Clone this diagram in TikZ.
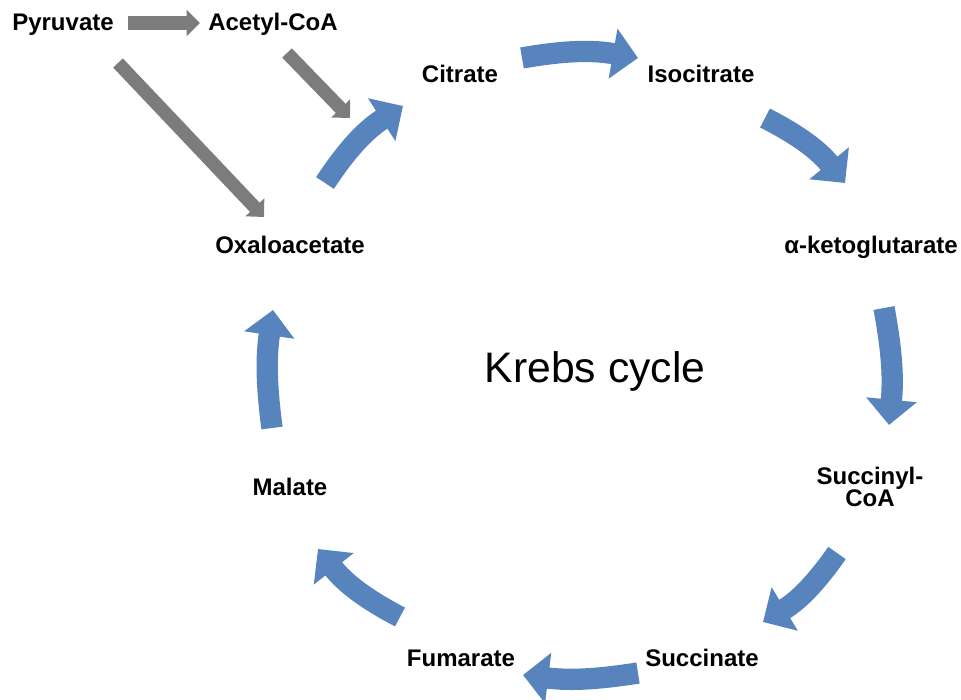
\documentclass[tikz,border=0pt]{standalone}
\usepackage{fontspec}
\setmainfont{Liberation Sans}
\usetikzlibrary{arrows.meta}

\definecolor{krebsBlue}{RGB}{88,132,190}
\definecolor{feedGrey}{RGB}{124,124,124}

\begin{document}
\begin{tikzpicture}[x=0.75pt, y=0.75pt,
        metabolite/.style={font=\fontsize{18}{16.5}\selectfont\bfseries, anchor=base, inner sep=0pt, align=center},
        cycleArrow/.style={draw=krebsBlue, line width=16pt, arrows={-{Triangle[width=37pt, length=19pt]}}, bend left=#1},
        cycleArrow/.default=12,
        feedArrow/.style={draw=feedGrey, line width=10pt, arrows={-{Triangle[width=19pt, length=10pt]}}}]
    \useasboundingbox (0,0) rectangle (961,700);
    % metabolites
    \node [metabolite] (pyruvate) at (63, 669) {Pyruvate};
    \node [metabolite] (acetylCoA) at (273, 669) {Acetyl-CoA};
    \node [metabolite] (citrate) at (460, 617) {Citrate};
    \node [metabolite] (isocitrate) at (701, 617) {Isocitrate};
    \node [metabolite] (ketoglutarate) at (871, 446) {α-ketoglutarate};
    \node [metabolite, anchor=center] (succinylCoA) at (870, 213) {Succinyl-\\CoA};
    \node [metabolite] (succinate) at (702, 33) {Succinate};
    \node [metabolite] (fumarate) at (461, 33) {Fumarate};
    \node [metabolite] (malate) at (290, 204) {Malate};
    \node [metabolite] (oxaloacetate) at (290, 446) {Oxaloacetate};
    \node [font=\fontsize{32}{38}\selectfont, anchor=base, inner sep=0pt] (krebs) at (595, 317) {Krebs cycle};
    % arrow ends
    \coordinate (pyrOut) at (128, 677);
    \coordinate (acetylIn) at (200, 677);
    \coordinate (acetylOut) at (287, 647);
    \coordinate (acetylJoin) at (350, 582);
    \coordinate (pyrDown) at (118, 637);
    \coordinate (oxaloIn) at (264, 483);
    \coordinate (oxaloOut) at (325, 517);
    \coordinate (citrateIn) at (403, 594);
    \coordinate (citrateOut) at (522, 642);
    \coordinate (isoIn) at (638, 642);
    \coordinate (isoOut) at (765, 582);
    \coordinate (ketoIn) at (845, 517);
    \coordinate (ketoOut) at (884, 392);
    \coordinate (succCoAIn) at (889, 275);
    \coordinate (succCoAOut) at (837, 147);
    \coordinate (succinateIn) at (763, 78);
    \coordinate (succinateOut) at (638, 27);
    \coordinate (fumarateIn) at (523, 25);
    \coordinate (fumarateOut) at (400, 83);
    \coordinate (malateIn) at (318, 151);
    \coordinate (malateOut) at (272, 272);
    \coordinate (oxaloTop) at (273, 390);
    % feeder arrows
    \draw [feedArrow] (pyrOut) -- (acetylIn);
    \draw [feedArrow] (acetylOut) -- (acetylJoin);
    \draw [feedArrow] (pyrDown) -- (oxaloIn);
    % the cycle
    \draw [cycleArrow] (oxaloOut) to (citrateIn);
    \draw [cycleArrow=10] (citrateOut) to (isoIn);
    \draw [cycleArrow] (isoOut) to (ketoIn);
    \draw [cycleArrow=8] (ketoOut) to (succCoAIn);
    \draw [cycleArrow] (succCoAOut) to (succinateIn);
    \draw [cycleArrow=8] (succinateOut) to (fumarateIn);
    \draw [cycleArrow] (fumarateOut) to (malateIn);
    \draw [cycleArrow=8] (malateOut) to (oxaloTop);
\end{tikzpicture}
\end{document}
